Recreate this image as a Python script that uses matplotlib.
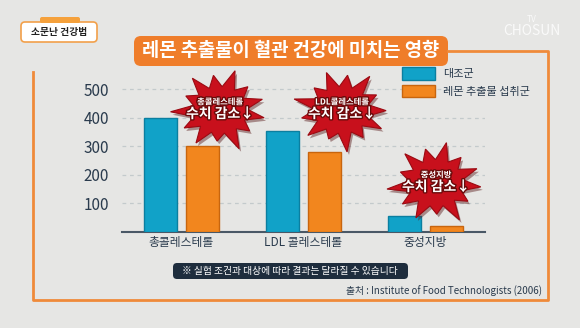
import numpy as np
import matplotlib.pyplot as plt
import matplotlib.patheffects as pe
from matplotlib.patches import FancyBboxPatch, Polygon, Patch

plt.rcParams['font.family'] = ['Noto Sans CJK KR', 'DejaVu Sans']

# data
categories = ['총콜레스테롤', 'LDL 콜레스테롤', '중성지방']
control = [400, 355, 55]
lemon = [300, 280, 22]
series_names = ['대조군', '레몬 추출물 섭취군']
burst_labels = ['총콜레스테롤', 'LDL콜레스테롤', '중성지방']
yticks = [100, 200, 300, 400, 500]

navy = '#2a3b4d'
blue = '#11a2c8'
orange = '#f2861e'
frame_orange = '#ef8a3a'

fig = plt.figure(figsize=(5.8, 3.28), dpi=100)
fig.patch.set_facecolor('#e6e6e4')

# main chart
ax = fig.add_axes([0.210, 0.293, 0.626, 0.469])
ax.patch.set_visible(False)
x = np.arange(len(categories))
off, w = 0.172, 0.27
ax.bar(x - off, control, w, color=blue, edgecolor='#0b7fa0', linewidth=1.0,
       label=series_names[0], zorder=3)
ax.bar(x + off, lemon, w, color=orange, edgecolor='#c8650e', linewidth=1.0,
       label=series_names[1], zorder=3)
ax.set_xlim(-0.49, 2.49)
ax.set_ylim(0, 540)
ax.set_yticks(yticks)
ax.set_xticks(x)
ax.set_xticklabels(categories, fontsize=8.5, color=navy)
ax.tick_params(axis='y', length=0, pad=9, labelsize=11, labelcolor=navy)
ax.tick_params(axis='x', length=0, pad=3)
for s in ['top', 'right', 'left']:
    ax.spines[s].set_visible(False)
ax.spines['bottom'].set_color('#4a5866')
ax.spines['bottom'].set_linewidth(1.5)
ax.grid(axis='y', linestyle=(0, (3, 3)), color='#c3cacc', linewidth=0.9, zorder=0)

handles = [Patch(facecolor=blue, edgecolor='#0b7fa0'),
           Patch(facecolor=orange, edgecolor='#c8650e')]
ax.legend(handles, series_names, loc='upper left', bbox_to_anchor=(0.771, 1.07),
          frameon=False, fontsize=8, handlelength=3.0, handleheight=1.35,
          labelspacing=0.45, borderpad=0, borderaxespad=0, handletextpad=0.7,
          labelcolor=navy)

# overlay in pixel coordinates for decorations
ov = fig.add_axes([0, 0, 1, 1])
ov.set_xlim(0, 580)
ov.set_ylim(328, 0)
ov.axis('off')
ov.patch.set_visible(False)

# frame
ov.plot([448, 548, 548, 33, 33], [51, 51, 300, 300, 72], color=frame_orange, lw=2)

# title
ov.add_patch(FancyBboxPatch((134, 36), 314, 30, boxstyle='round,pad=0,rounding_size=7',
                            facecolor='#ef7d2a', edgecolor='none'))
ov.text(291, 51, '레몬 추출물이 혈관 건강에 미치는 영향', color='white', fontsize=13.5,
        fontweight='bold', ha='center', va='center')

# logo
ov.add_patch(FancyBboxPatch((21, 22), 76, 20, boxstyle='round,pad=0,rounding_size=4',
                            facecolor='white', edgecolor='#f2a04a', lw=1.2))
ov.add_patch(FancyBboxPatch((40, 17), 40, 6, boxstyle='round,pad=0,rounding_size=2',
                            facecolor='#f5a13c', edgecolor='none'))
ov.text(59, 32, '소문난 건강법', fontsize=7, fontweight='bold', color='#222222',
        ha='center', va='center')

# channel watermark
ov.text(532, 19, 'TV', fontsize=6, color='white', alpha=0.8, ha='center', va='center')
ov.text(532, 31, 'CHOSUN', fontsize=10, color='white', alpha=0.8, ha='center',
        va='center')

# starbursts
spikes = [1.0, 0.85, 1.08, 0.8, 1.0, 0.92, 1.1, 0.84, 1.02, 0.9, 1.06, 0.86, 0.98]


def burst(cx, cy, rx, ry, rot):
    pts = []
    n = len(spikes)
    for i in range(2 * n):
        a = rot + np.pi * i / n
        r = spikes[i // 2] if i % 2 == 0 else 0.6
        pts.append((cx + rx * r * np.cos(a), cy + ry * r * np.sin(a)))
    ov.add_patch(Polygon([(px + 2, py + 3) for px, py in pts], closed=True,
                         facecolor='#5a1a1a', edgecolor='none', alpha=0.45))
    ov.add_patch(Polygon(pts, closed=True, facecolor='#c8101c', edgecolor='#9a0a12',
                         lw=0.8))


stroke = [pe.withStroke(linewidth=2, foreground='#6a0a0a')]
for (cx, cy, rot), lab in zip([(220, 110, 0.2), (342, 110, 0.5), (436, 183, 0.1)],
                              burst_labels):
    burst(cx, cy, 45, 39, rot)
    ov.text(cx, cy - 8, lab, fontsize=6, fontweight='bold', color='white',
            ha='center', va='center', path_effects=stroke)
    ov.text(cx, cy + 4, '수치 감소↓', fontsize=10, fontweight='bold', color='white',
            ha='center', va='center', path_effects=stroke)

# note and source
ov.add_patch(FancyBboxPatch((173, 263), 235, 16, boxstyle='round,pad=0,rounding_size=4',
                            facecolor='#1e2d3d', edgecolor='none'))
ov.text(290, 271, '※ 실험 조건과 대상에 따라 결과는 달라질 수 있습니다', fontsize=7,
        color='white', ha='center', va='center')
ov.text(542, 291, '출처 : Institute of Food Technologists (2006)', fontsize=7,
        color=navy, ha='right', va='center')

fig.savefig('out.png', dpi=100, facecolor=fig.get_facecolor())
